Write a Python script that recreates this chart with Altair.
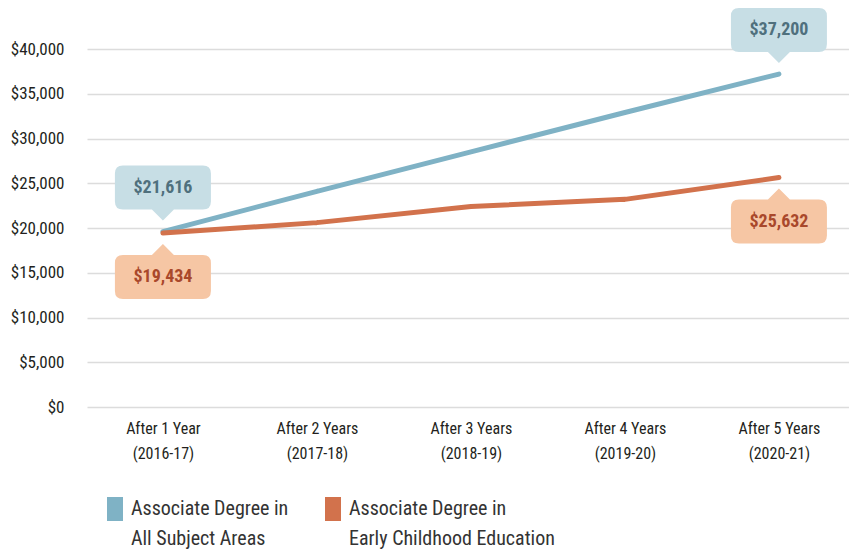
import altair as alt
import pandas as pd

periods = ["After 1 Year", "After 2 Years", "After 3 Years", "After 4 Years", "After 5 Years"]
years = ["(2016-17)", "(2017-18)", "(2018-19)", "(2019-20)", "(2020-21)"]
series_names = ["Associate Degree in\nAll Subject Areas",
                "Associate Degree in\nEarly Childhood Education"]
all_subjects = [19600, 24100, 28500, 32900, 37200]
early_childhood = [19434, 20600, 22400, 23200, 25632]
all_callouts = ["$21,616", "", "", "", "$37,200"]
ece_callouts = ["$19,434", "", "", "", "$25,632"]
y_ticks = [0, 5000, 10000, 15000, 20000, 25000, 30000, 35000, 40000]

colors = ["#7fb2c5", "#d2724c"]
callout_fill = ["#c7dee5", "#f6c6a4"]
callout_text = ["#4f707d", "#a9482b"]
FONT = "Roboto Condensed, Roboto, sans-serif"

labels = [f"{p}\n{y}" for p, y in zip(periods, years)]
rows = []
for s, vals in zip(series_names, [all_subjects, early_childhood]):
    for lab, v in zip(labels, vals):
        rows.append({"period": lab, "series": s, "value": v})
df = pd.DataFrame(rows)

call_all = pd.DataFrame([{"period": l, "value": v, "label": t}
                         for l, v, t in zip(labels, all_subjects, all_callouts) if t])
call_ece = pd.DataFrame([{"period": l, "value": v, "label": t}
                         for l, v, t in zip(labels, early_childhood, ece_callouts) if t])

x_enc = alt.X("period:N", sort=labels, title=None,
              scale=alt.Scale(type="point", padding=0.474, align=0.52),
              axis=alt.Axis(labelExpr="split(datum.label, '\\n')", labelAngle=0))
y_enc = alt.Y("value:Q", title=None,
              scale=alt.Scale(domain=[0, 40000], nice=False),
              axis=alt.Axis(values=y_ticks, format="$,.0f"))

lines = alt.Chart(df).mark_trail().encode(
    x=x_enc, y=y_enc,
    size=alt.value(5),
    color=alt.Color("series:N", sort=series_names,
                    scale=alt.Scale(domain=series_names, range=colors),
                    legend=alt.Legend(
                        title=None, orient="none", legendX=12, legendY=444,
                        columns=2, columnPadding=24, padding=0,
                        symbolType="M -0.333 -0.667 L 0.333 -0.667 L 0.333 0.667 L -0.333 0.667 Z",
                        symbolSize=576, symbolStrokeWidth=8,
                        labelFontSize=20, labelBaseline="middle",
                        labelOffset=0, labelLimit=500, labelColor="#333333",
                        labelFont=FONT,
                        labelExpr="split(datum.label, '\\n')")),
    detail="series:N",
    order=alt.Order("period:N")
)

up_path = ("M -0.833 -1.375 L 0.833 -1.375 Q 1 -1.375 1 -1.208 L 1 -0.625 Q 1 -0.458 0.833 -0.458 "
           "L 0.229 -0.458 L 0 -0.229 L -0.229 -0.458 L -0.833 -0.458 Q -1 -0.458 -1 -0.625 "
           "L -1 -1.208 Q -1 -1.375 -0.833 -1.375 Z")
down_path = ("M -0.833 1.375 L 0.833 1.375 Q 1 1.375 1 1.208 L 1 0.625 Q 1 0.458 0.833 0.458 "
             "L 0.229 0.458 L 0 0.229 L -0.229 0.458 L -0.833 0.458 Q -1 0.458 -1 0.625 "
             "L -1 1.208 Q -1 1.375 -0.833 1.375 Z")

box_all = alt.Chart(call_all).mark_point(shape=up_path, size=9216, filled=True, opacity=1,
                                         strokeWidth=0, color=callout_fill[0]).encode(
    x=alt.X("period:N", sort=labels), y="value:Q")
box_ece = alt.Chart(call_ece).mark_point(shape=down_path, size=9216, filled=True, opacity=1,
                                         strokeWidth=0, color=callout_fill[1]).encode(
    x=alt.X("period:N", sort=labels), y="value:Q")
txt_all = alt.Chart(call_all).mark_text(dy=-44, fontSize=18, fontWeight="bold", font=FONT,
                                        color=callout_text[0], baseline="middle").encode(
    x=alt.X("period:N", sort=labels), y="value:Q", text="label:N")
txt_ece = alt.Chart(call_ece).mark_text(dy=44, fontSize=18, fontWeight="bold", font=FONT,
                                        color=callout_text[1], baseline="middle").encode(
    x=alt.X("period:N", sort=labels), y="value:Q", text="label:N")

chart = alt.layer(lines, box_all, box_ece, txt_all, txt_ece).properties(
    width=762, height=358,
    padding={"left": 79, "top": 41, "right": 0, "bottom": 142},
    autosize=alt.AutoSizeParams(type="none"),
).configure(
    style={"guide-label": {"lineHeight": 30}}
).configure_view(stroke=None).configure_axisY(
    grid=True, gridColor="#dcdcdc", gridWidth=1.5, domain=False, ticks=False,
    labelFont=FONT, labelFontSize=17, labelColor="#231f20", labelPadding=23
).configure_axisX(
    grid=False, domain=False, ticks=False, labelFont=FONT, labelFontSize=16,
    labelColor="#231f20", labelPadding=13, labelLineHeight=25
)

chart.save("out.html", embed_options={"renderer": "svg", "actions": False})
